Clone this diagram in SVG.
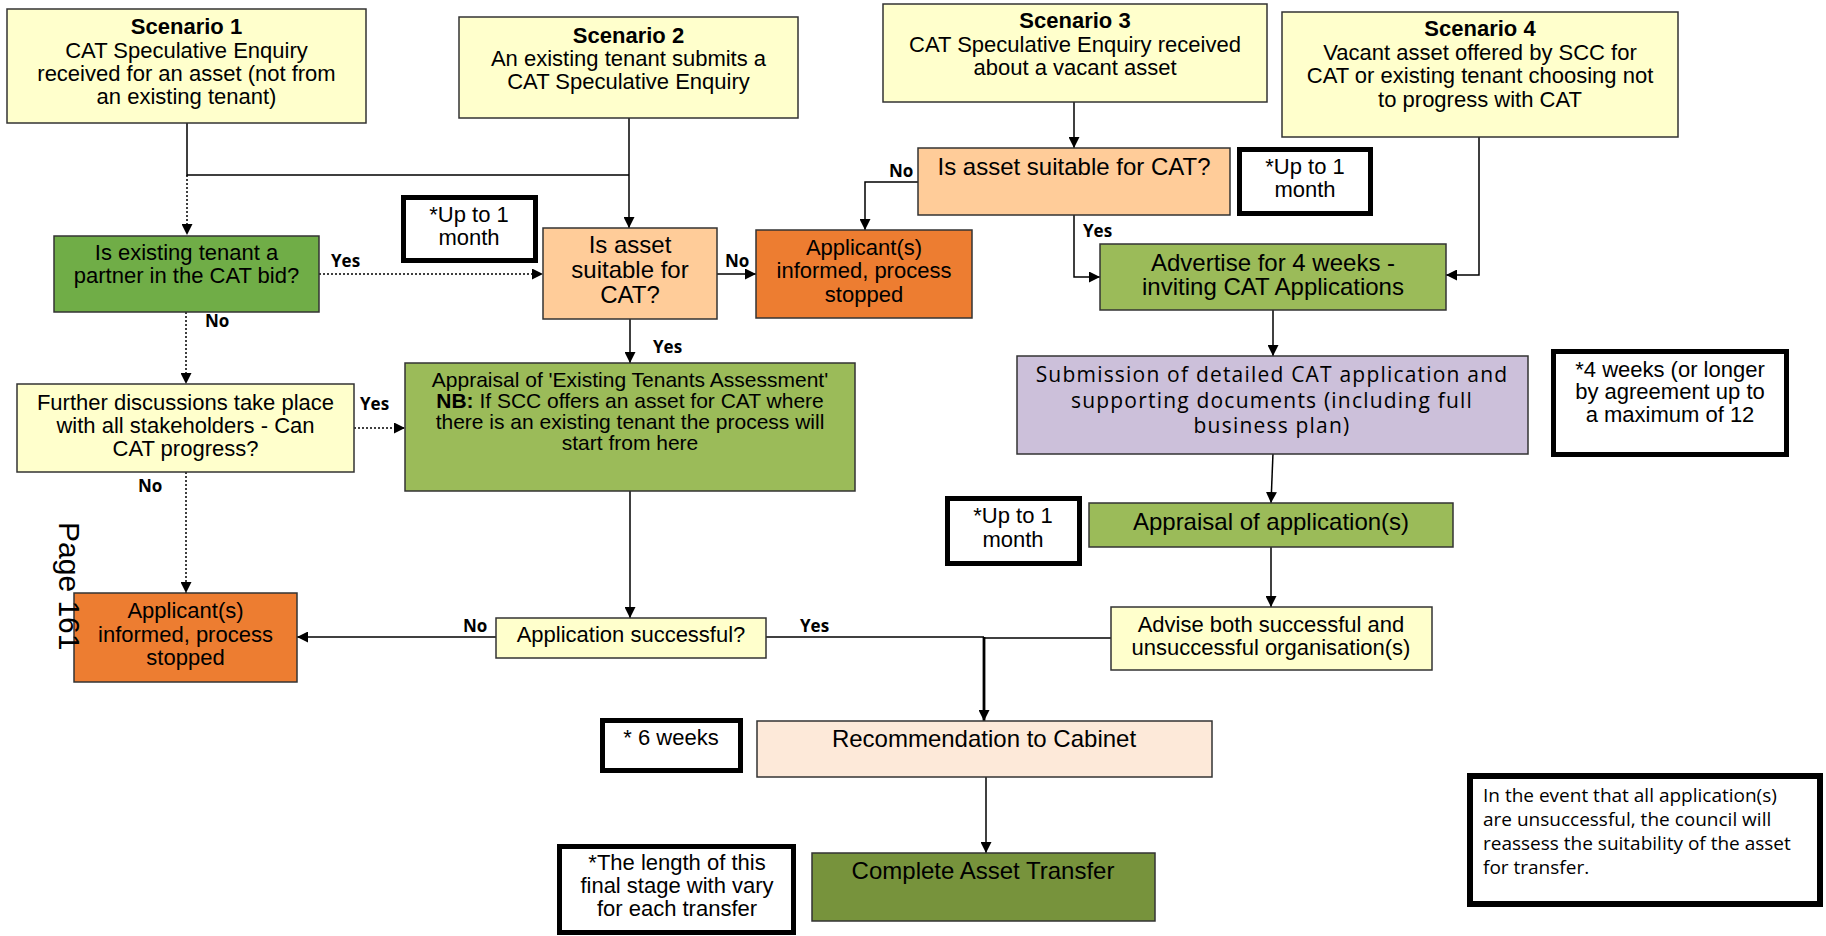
<svg xmlns="http://www.w3.org/2000/svg" width="1826" height="936" viewBox="0 0 1826 936">
<defs>
<marker id="ah" viewBox="0 0 10 10" refX="10" refY="5" markerWidth="11" markerHeight="11" markerUnits="userSpaceOnUse" orient="auto"><path d="M0,0 L10,5 L0,10 Z" fill="#000"/></marker>
<style>
.bx{stroke:#333;stroke-width:1.5}
.yl{fill:#FFFFCC}.gr{fill:#70AD47}.lo{fill:#FFCC99}.do{fill:#ED7D31}.ol{fill:#9BBB59}.pu{fill:#CCC0DA}.pe{fill:#FDE9D9}.dg{fill:#77933C}
.th{fill:#fff;stroke:#000;stroke-width:5}
.t{font-family:"Liberation Sans",Arial,sans-serif;font-size:22px;fill:#000;text-anchor:middle}
.t24{font-size:24px}.t21{font-size:21px}
.b{font-weight:bold}
.lb{font-family:"Open Sans",sans-serif;font-weight:bold;font-size:17px;fill:#000}
.sub{font-family:"Open Sans",sans-serif;font-size:21px;letter-spacing:1.2px;fill:#000;text-anchor:middle}
.note{font-family:"Open Sans",sans-serif;font-size:19px;fill:#000}
.c{fill:none;stroke:#000;stroke-width:1.5}
.d{fill:none;stroke:#000;stroke-width:1.5;stroke-dasharray:2 2}
</style>
</defs>
<rect width="1826" height="936" fill="#fff"/>

<g id="connectors">
<path class="c" d="M187,123 V175 H629"/>
<path class="d" d="M187,175 V235" marker-end="url(#ah)"/>
<path class="c" d="M629,118 V228" marker-end="url(#ah)"/>
<path class="d" d="M319,274 H543" marker-end="url(#ah)"/>
<path class="c" d="M717,274 H756" marker-end="url(#ah)"/>
<path class="c" d="M630,319 V363" marker-end="url(#ah)"/>
<path class="d" d="M186,312 V384" marker-end="url(#ah)"/>
<path class="d" d="M354,428 H405" marker-end="url(#ah)"/>
<path class="d" d="M186,472 V593" marker-end="url(#ah)"/>
<path class="c" d="M630,491 V618" marker-end="url(#ah)"/>
<path class="c" d="M496,637 H297" marker-end="url(#ah)"/>
<path class="c" d="M766,637 H984"/>
<path class="c" d="M984,637 V721" style="stroke-width:2.8" marker-end="url(#ah)"/>
<path class="c" d="M1111,638 H984"/>
<path class="c" d="M986,777 V853" marker-end="url(#ah)"/>
<path class="c" d="M1074,102 V148" marker-end="url(#ah)"/>
<path class="c" d="M918,182 H865 V230" marker-end="url(#ah)"/>
<path class="c" d="M1074,215 V277 H1100" marker-end="url(#ah)"/>
<path class="c" d="M1479,137 V275 H1446" marker-end="url(#ah)"/>
<path class="c" d="M1273,310 V356" marker-end="url(#ah)"/>
<path class="c" d="M1273,453 L1271,503" marker-end="url(#ah)"/>
<path class="c" d="M1271,547 V607" marker-end="url(#ah)"/>
<text class="lb" x="331" y="267">Yes</text>
<text class="lb" x="725" y="267">No</text>
<text class="lb" x="653" y="353">Yes</text>
<text class="lb" x="205" y="327">No</text>
<text class="lb" x="360" y="410">Yes</text>
<text class="lb" x="138" y="492">No</text>
<text class="lb" x="463" y="632">No</text>
<text class="lb" x="800" y="632">Yes</text>
<text class="lb" x="889" y="177">No</text>
<text class="lb" x="1083" y="237">Yes</text>
</g>

<g id="scenario1"><rect class="bx yl" x="7" y="9" width="359" height="114"/>
<text class="t b" x="186.5" y="34">Scenario 1</text>
<text class="t" x="186.5" y="58">CAT Speculative Enquiry</text>
<text class="t" x="186.5" y="81">received for an asset (not from</text>
<text class="t" x="186.5" y="104">an existing tenant)</text></g>

<g id="scenario2"><rect class="bx yl" x="459" y="17" width="339" height="101"/>
<text class="t b" x="628.5" y="43">Scenario 2</text>
<text class="t" x="628.5" y="66">An existing tenant submits a</text>
<text class="t" x="628.5" y="89">CAT Speculative Enquiry</text></g>

<g id="scenario3"><rect class="bx yl" x="883" y="4" width="384" height="98"/>
<text class="t b" x="1075" y="28">Scenario 3</text>
<text class="t" x="1075" y="52">CAT Speculative Enquiry received</text>
<text class="t" x="1075" y="75">about a vacant asset</text></g>

<g id="scenario4"><rect class="bx yl" x="1282" y="12" width="396" height="125"/>
<text class="t b" x="1480" y="36">Scenario 4</text>
<text class="t" x="1480" y="60">Vacant asset offered by SCC for</text>
<text class="t" x="1480" y="83">CAT or existing tenant choosing not</text>
<text class="t" x="1480" y="107">to progress with CAT</text></g>

<g id="existing-partner"><rect class="bx gr" x="54" y="236" width="265" height="76"/>
<text class="t" x="186.5" y="260">Is existing tenant a</text>
<text class="t" x="186.5" y="283">partner in the CAT bid?</text></g>

<g id="time1"><rect class="th" x="403.5" y="197.5" width="132" height="63"/>
<text class="t" x="469" y="222">*Up to 1</text>
<text class="t" x="469" y="245">month</text></g>

<g id="suitable1"><rect class="bx lo" x="543" y="228" width="174" height="91"/>
<text class="t t24" x="630" y="253">Is asset</text>
<text class="t t24" x="630" y="278">suitable for</text>
<text class="t t24" x="630" y="303">CAT?</text></g>

<g id="stopped1"><rect class="bx do" x="756" y="230" width="216" height="88"/>
<text class="t" x="864" y="255">Applicant(s)</text>
<text class="t" x="864" y="278">informed, process</text>
<text class="t" x="864" y="302">stopped</text></g>

<g id="suitable2"><rect class="bx lo" x="918" y="148" width="312" height="67"/>
<text class="t t24" x="1074" y="175">Is asset suitable for CAT?</text></g>

<g id="time2"><rect class="th" x="1239.5" y="149.5" width="131" height="64"/>
<text class="t" x="1305" y="174">*Up to 1</text>
<text class="t" x="1305" y="197">month</text></g>

<g id="advertise"><rect class="bx ol" x="1100" y="244" width="346" height="66"/>
<text class="t t24" x="1273" y="271">Advertise for 4 weeks -</text>
<text class="t t24" x="1273" y="295">inviting CAT Applications</text></g>

<g id="further"><rect class="bx yl" x="17" y="384" width="337" height="88"/>
<text class="t" x="185.5" y="410">Further discussions take place</text>
<text class="t" x="185.5" y="433">with all stakeholders - Can</text>
<text class="t" x="185.5" y="456">CAT progress?</text></g>

<g id="appraisal-existing"><rect class="bx ol" x="405" y="363" width="450" height="128"/>
<text class="t t21" x="630" y="387">Appraisal of 'Existing Tenants Assessment'</text>
<text class="t t21" x="630" y="408"><tspan class="b">NB:</tspan> If SCC offers an asset for CAT where</text>
<text class="t t21" x="630" y="429">there is an existing tenant the process will</text>
<text class="t t21" x="630" y="450">start from here</text></g>

<g id="submission"><rect class="bx pu" x="1017" y="356" width="511" height="98"/>
<text class="sub" x="1272" y="382">Submission of detailed CAT application and</text>
<text class="sub" x="1272" y="408">supporting documents (including full</text>
<text class="sub" x="1272" y="433">business plan)</text></g>

<g id="time3"><rect class="th" x="1553.5" y="351.5" width="233" height="103"/>
<text class="t" x="1670" y="377">*4 weeks (or longer</text>
<text class="t" x="1670" y="399">by agreement up to</text>
<text class="t" x="1670" y="422">a maximum of 12</text></g>

<g id="time4"><rect class="th" x="947.5" y="498.5" width="132" height="65"/>
<text class="t" x="1013" y="523">*Up to 1</text>
<text class="t" x="1013" y="547">month</text></g>

<g id="appraisal-app"><rect class="bx ol" x="1089" y="503" width="364" height="44"/>
<text class="t t24" x="1271" y="530">Appraisal of application(s)</text></g>

<g id="advise"><rect class="bx yl" x="1111" y="607" width="321" height="63"/>
<text class="t" x="1271" y="632">Advise both successful and</text>
<text class="t" x="1271" y="655">unsuccessful organisation(s)</text></g>

<g id="stopped2"><rect class="bx do" x="74" y="593" width="223" height="89"/>
<text class="t" x="185.5" y="618">Applicant(s)</text>
<text class="t" x="185.5" y="642">informed, process</text>
<text class="t" x="185.5" y="665">stopped</text></g>

<g id="app-successful"><rect class="bx yl" x="496" y="618" width="270" height="40"/>
<text class="t" x="631" y="642">Application successful?</text></g>

<g id="time5"><rect class="th" x="602.5" y="720.5" width="138" height="50"/>
<text class="t" x="671" y="745">* 6 weeks</text></g>

<g id="recommendation"><rect class="bx pe" x="757" y="721" width="455" height="56"/>
<text class="t t24" x="984" y="747">Recommendation to Cabinet</text></g>

<g id="time6"><rect class="th" x="559.5" y="846.5" width="234" height="86"/>
<text class="t" x="677" y="870">*The length of this</text>
<text class="t" x="677" y="893">final stage with vary</text>
<text class="t" x="677" y="916">for each transfer</text></g>

<g id="complete"><rect class="bx dg" x="812" y="853" width="343" height="68"/>
<text class="t t24" x="983" y="879">Complete Asset Transfer</text></g>

<g id="note"><rect fill="#fff" stroke="#000" stroke-width="6" x="1470" y="776" width="350" height="128"/>
<text class="note" x="1483" y="802">In the event that all application(s)</text>
<text class="note" x="1483" y="826">are unsuccessful, the council will</text>
<text class="note" x="1483" y="850">reassess the suitability of the asset</text>
<text class="note" x="1483" y="874">for transfer.</text></g>

<g id="page-label"><text font-family="Liberation Sans, Arial, sans-serif" font-size="30" fill="#000" transform="translate(59,522) rotate(90)">Page 161</text></g>
</svg>
